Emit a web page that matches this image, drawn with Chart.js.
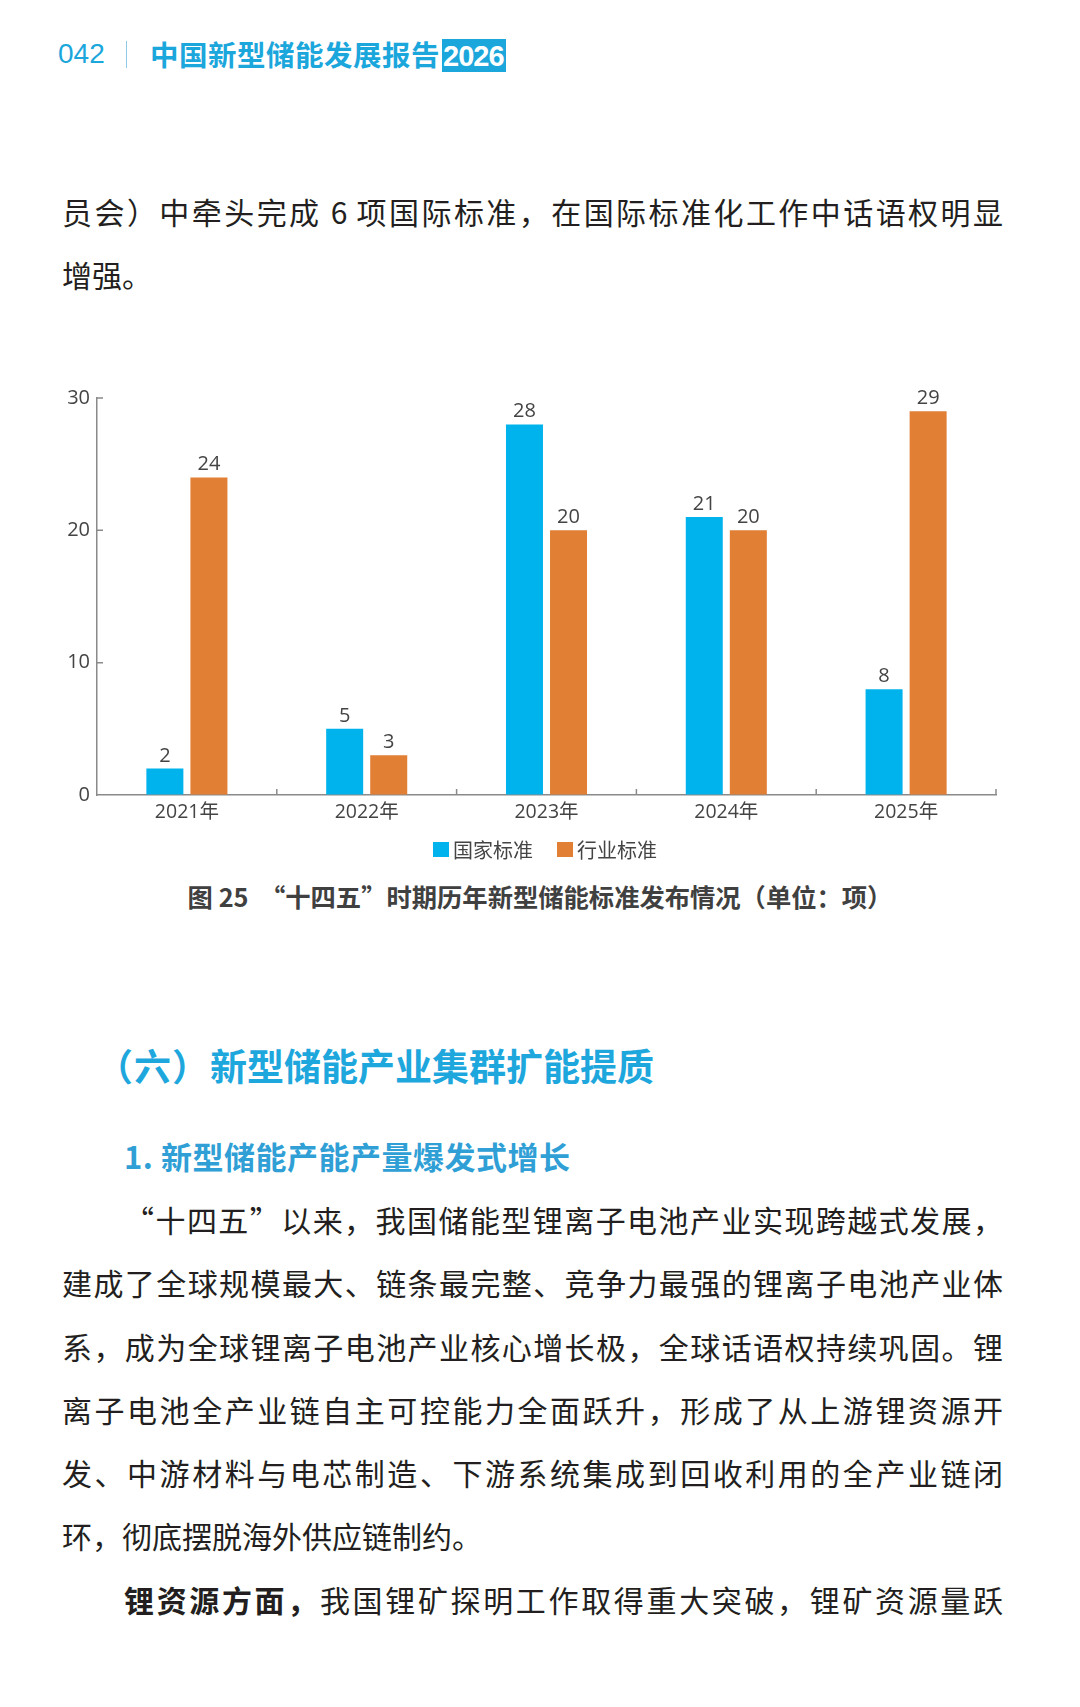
<!DOCTYPE html>
<html lang="zh-CN">
<head>
<meta charset="utf-8">
<title>“十四五”时期历年新型储能标准发布情况</title>
<script src="https://cdn.jsdelivr.net/npm/chart.js@4.4.1/dist/chart.umd.min.js"></script>
<style>
html, body { margin: 0; padding: 0; background: #fff; }
body { width: 1080px; height: 1707px; position: relative; overflow: hidden;
       font-family: "Noto Sans CJK SC", sans-serif; color: #231f20; }
.abs { position: absolute; white-space: nowrap; }
.num { left: 58px; top: 34px; font: 28px/40px "Liberation Sans", sans-serif; color: #1ba6dc; }
.sep { left: 126px; top: 41px; width: 1px; height: 27px; background: #8fcbe4; }
.ttl { left: 150px; top: 34px; font-size: 28.5px; line-height: 40px; font-weight: 700; color: #1ba6dc; letter-spacing: 0.5px; }
.ttl b { background: #1ba6dc; color: #fff; font-family: "Liberation Sans", sans-serif; font-size: 29px;
         letter-spacing: -1px; padding: 1px 2px 0 1px; margin-left: 2px; }
.para { left: 62px; width: 941px; font-size: 30px; line-height: 63px; }
.para div { white-space: nowrap; }
.para .j { text-align: justify; text-align-last: justify; white-space: normal; }
.ind { padding-left: 62px; }
#chartBox { left: 0; top: 340px; width: 1080px; height: 500px; }
.legend { left: 0; top: 835px; width: 1090px; height: 28px; display: flex; justify-content: center; align-items: center;
          font-size: 20px; color: #444; }
.legend span.sw { display: inline-block; width: 16px; height: 15px; margin-right: 4px; }
.legend .item { display: flex; align-items: center; margin: 0 12px; }
.cap { left: 0; top: 879px; width: 1080px; text-align: center; font-size: 25.3px; line-height: 34px; font-weight: 700; color: #404040; }
.h2 { left: 96px; top: 1042px; font-size: 37px; line-height: 46px; font-weight: 700; color: #1ea7dd; }
.h2 .p { letter-spacing: 1px; }
.h3 { left: 124px; top: 1136px; font-size: 31px; line-height: 40px; font-weight: 700; color: #2f9fd6; letter-spacing: 0.5px; }
</style>
</head>
<body>

<div class="abs num">042</div>
<div class="abs sep"></div>
<div class="abs ttl">中国新型储能发展报告<b>2026</b></div>

<div class="abs para" style="top:180px;">
  <div class="j">员会）中牵头完成 6 项国际标准，在国际标准化工作中话语权明显</div>
  <div>增强。</div>
</div>

<div class="abs" id="chartBox"><canvas id="myChart1"></canvas></div>

<div class="abs legend">
  <div class="item"><span class="sw" style="background:#00b3ec"></span>国家标准</div>
  <div class="item"><span class="sw" style="background:#e17f35"></span>行业标准</div>
</div>

<div class="abs cap">图 25 &nbsp;“十四五”时期历年新型储能标准发布情况（单位：项）</div>

<div class="abs h2"><span class="p">（六）</span>新型储能产业集群扩能提质</div>
<div class="abs h3">1. 新型储能产能产量爆发式增长</div>

<div class="abs para" style="top:1188px; line-height:63.3px;">
  <div class="j ind">“十四五”以来，我国储能型锂离子电池产业实现跨越式发展，</div>
  <div class="j">建成了全球规模最大、链条最完整、竞争力最强的锂离子电池产业体</div>
  <div class="j">系，成为全球锂离子电池产业核心增长极，全球话语权持续巩固。锂</div>
  <div class="j">离子电池全产业链自主可控能力全面跃升，形成了从上游锂资源开</div>
  <div class="j">发、中游材料与电芯制造、下游系统集成到回收利用的全产业链闭</div>
  <div>环，彻底摆脱海外供应链制约。</div>
  <div class="j ind"><b>锂资源方面，</b>我国锂矿探明工作取得重大突破，锂矿资源量跃</div>
</div>

<script>
// data
var years = ['2021年', '2022年', '2023年', '2024年', '2025年'];
var nationalStd = [2, 5, 28, 21, 8];
var industryStd = [24, 3, 20, 20, 29];
var yTicks = [0, 10, 20, 30];

var tickFont = '"Open Sans", "Noto Sans CJK SC", sans-serif';

// value labels above each bar
var valueLabels = {
    id: 'valueLabels',
    afterDatasetsDraw: function (chart) {
        var c = chart.ctx;
        c.save();
        c.font = '20px ' + tickFont;
        c.fillStyle = '#444';
        c.textAlign = 'center';
        c.textBaseline = 'alphabetic';
        chart.data.datasets.forEach(function (ds, i) {
            chart.getDatasetMeta(i).data.forEach(function (bar, j) {
                c.fillText(ds.data[j], bar.x, bar.y - 7);
            });
        });
        c.restore();
    }
};

// short tick marks pointing into the plot, like the original
var innerTicks = {
    id: 'innerTicks',
    afterDraw: function (chart) {
        var c = chart.ctx, x = chart.scales.x, y = chart.scales.y, a = chart.chartArea;
        c.save();
        c.strokeStyle = '#8a8a8a';
        c.lineWidth = 1.5;
        c.beginPath();
        for (var i = 0; i < years.length; i++) {
            var px = i < years.length - 1 ? (x.getPixelForValue(i) + x.getPixelForValue(i + 1)) / 2 : a.right;
            c.moveTo(px, a.bottom);
            c.lineTo(px, a.bottom - 6);
        }
        yTicks.slice(1).forEach(function (v) {
            var py = y.getPixelForValue(v);
            c.moveTo(a.left, py);
            c.lineTo(a.left + 6, py);
        });
        c.stroke();
        c.restore();
    }
};

var ctx = document.getElementById('myChart1').getContext('2d');

var myChart = new Chart(ctx, {
    type: 'bar',
    data: {
        labels: years,
        datasets: [{
            label: '国家标准',
            data: nationalStd,
            backgroundColor: '#00b3ec',
            categoryPercentage: 0.49,
            barPercentage: 0.84
        }, {
            label: '行业标准',
            data: industryStd,
            backgroundColor: '#e17f35',
            categoryPercentage: 0.49,
            barPercentage: 0.84
        }]
    },
    options: {
        responsive: true,
        maintainAspectRatio: false,
        animation: false,
        layout: {
            padding: { top: 58, right: 84, left: 0, bottom: 0 }
        },
        scales: {
            x: {
                grid: { display: true, drawOnChartArea: false, drawTicks: false },
                border: { display: true, color: '#8a8a8a', width: 1.5 },
                ticks: { color: '#444', padding: 6, font: { size: 19.5, family: tickFont } },
                afterFit: function (s) { s.height = 45; }
            },
            y: {
                min: 0,
                max: 30,
                afterBuildTicks: function (s) { s.ticks = yTicks.map(function (v) { return { value: v }; }); },
                grid: { display: true, drawOnChartArea: false, drawTicks: false },
                border: { display: true, color: '#8a8a8a', width: 1.5 },
                ticks: { color: '#444', padding: 7, font: { size: 20, family: tickFont } },
                afterFit: function (s) { s.width = 97; }
            }
        },
        plugins: {
            legend: { display: false },
            tooltip: { enabled: false }
        }
    },
    plugins: [valueLabels, innerTicks]
});
</script>
</body>
</html>
